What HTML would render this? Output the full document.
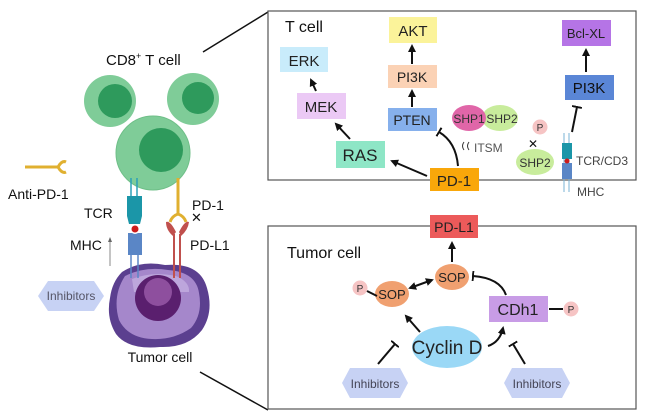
<!DOCTYPE html>
<html><head><meta charset="utf-8"><style>
html,body{margin:0;padding:0;background:#fff;}
svg{display:block;font-family:"Liberation Sans",sans-serif;}
</style></head><body>
<svg width="646" height="420" viewBox="0 0 646 420" xmlns="http://www.w3.org/2000/svg">
<defs>
<marker id="ar" markerWidth="8" markerHeight="8" refX="6" refY="4" orient="auto" markerUnits="userSpaceOnUse"><path d="M0,0 L8,4 L0,8 Z" fill="#111"/></marker>
<marker id="ars" markerWidth="8" markerHeight="8" refX="2" refY="4" orient="auto" markerUnits="userSpaceOnUse"><path d="M8,0 L0,4 L8,8 Z" fill="#111"/></marker>
<marker id="tb" markerWidth="2" markerHeight="10" refX="1" refY="5" orient="auto" markerUnits="userSpaceOnUse"><rect x="0" y="0" width="2" height="10" fill="#111"/></marker>
</defs>
<line x1="203" y1="52" x2="268" y2="12" stroke="#111" stroke-width="1.5"/>
<line x1="200" y1="372" x2="268" y2="410" stroke="#111" stroke-width="1.5"/>
<rect x="268" y="11" width="368" height="169" fill="#fff" stroke="#555" stroke-width="1.2"/>
<rect x="268" y="226" width="368" height="183" fill="#fff" stroke="#555" stroke-width="1.2"/>

<text x="106" y="65" font-size="15" fill="#111">CD8<tspan font-size="9" dy="-6">+</tspan><tspan dy="6"> T cell</tspan></text>
<circle cx="110" cy="101" r="26" fill="#7fcc98"/><circle cx="115" cy="101" r="17" fill="#2e9a5c"/>
<circle cx="193" cy="99" r="26" fill="#7fcc98"/><circle cx="198" cy="98" r="16" fill="#2e9a5c"/>
<circle cx="153" cy="153" r="37" fill="#7fcc98" stroke="#6fbf88"/><circle cx="161" cy="150" r="22" fill="#2e9a5c"/>
<line x1="25" y1="167" x2="58" y2="167" stroke="#e0b030" stroke-width="3"/>
<path d="M58,167 Q62,160 66,162 M58,167 Q62,174 66,172" stroke="#e0b030" stroke-width="3" fill="none"/>
<text x="8" y="199" font-size="14" fill="#111">Anti-PD-1</text>
<!-- tumor cell -->
<path d="M122,272 Q140,260 165,265 Q200,262 207,288 Q214,312 202,330 Q188,348 160,347 Q128,350 116,334 Q106,318 110,298 Q112,282 122,272Z" fill="#5b3f8f"/>
<path d="M125,276 Q145,266 168,270 Q196,272 199,293 Q203,314 191,328 Q174,340 152,339 Q128,338 119,320 Q112,296 125,276Z" fill="#a587cb"/>
<path d="M132,279 Q152,271 176,276 Q190,282 189,292 L134,292Z" fill="#c8b4e2" opacity="0.7"/>
<circle cx="158" cy="298" r="23" fill="#5a1f6e"/><circle cx="158" cy="292" r="14" fill="#8e4f9e"/>
<line x1="131" y1="178" x2="131" y2="198" stroke="#2aa0b8" stroke-width="1.5"/>
<line x1="137" y1="178" x2="137" y2="198" stroke="#2aa0b8" stroke-width="1.5"/>
<path d="M127,196 L142,196 L142,216 L140,224 L129,224 L127,216Z" fill="#1b96a8"/>
<rect x="128" y="233" width="14" height="22" fill="#5a86c6"/>
<line x1="131" y1="255" x2="131" y2="278" stroke="#5a86c6" stroke-width="1.5"/>
<line x1="138" y1="255" x2="138" y2="278" stroke="#5a86c6" stroke-width="1.5"/>
<circle cx="135" cy="229" r="5" fill="#fff"/><circle cx="135" cy="229" r="3.5" fill="#cc1b1b"/>
<text x="84" y="218" font-size="14" fill="#111">TCR</text>
<text x="70" y="250" font-size="14" fill="#111">MHC</text>
<line x1="110" y1="266" x2="110" y2="240" stroke="#888" stroke-width="1"/>
<path d="M108,242 L110,237 L112,242Z" fill="#666"/>
<line x1="178" y1="178" x2="178" y2="214" stroke="#e0b030" stroke-width="3"/>
<path d="M178,214 Q172,216 170,222 M178,214 Q184,216 186,222" stroke="#e0b030" stroke-width="3" fill="none"/>
<path d="M173,236 Q166,230 166,222 Q170,220 176,232Z M181,236 Q188,230 189,222 Q185,220 179,232Z" fill="#c0504d"/>
<line x1="174" y1="234" x2="174" y2="278" stroke="#c0504d" stroke-width="2"/>
<line x1="180" y1="234" x2="180" y2="278" stroke="#c0504d" stroke-width="2"/>
<text x="192" y="210" font-size="14" fill="#111">PD-1</text>
<text x="191" y="222" font-size="13" fill="#111">✕</text>
<text x="190" y="250" font-size="14" fill="#111">PD-L1</text>
<polygon points="38,296 48,281 94,281 104,296 94,311 48,311" fill="#c7d2f4"/>
<text x="71" y="300" font-size="12" fill="#556" text-anchor="middle">Inhibitors</text>
<text x="160" y="362" font-size="14" fill="#111" text-anchor="middle">Tumor cell</text>

<text x="285" y="32" font-size="16" fill="#111">T cell</text>
<rect x="280" y="47" width="48" height="25" fill="#c9ecfb"/><text x="304" y="66" font-size="15" text-anchor="middle" fill="#222">ERK</text>
<rect x="297" y="93" width="49" height="26" fill="#ebc9f5"/><text x="321" y="112" font-size="15" text-anchor="middle" fill="#222">MEK</text>
<rect x="336" y="141" width="49" height="27" fill="#8ee6c6"/><text x="360" y="161" font-size="17" text-anchor="middle" fill="#222">RAS</text>
<rect x="389" y="17" width="48" height="26" fill="#fbf39a"/><text x="413" y="36" font-size="15" text-anchor="middle" fill="#222">AKT</text>
<rect x="388" y="65" width="49" height="23" fill="#fbd2b5"/><text x="412" y="82" font-size="14" text-anchor="middle" fill="#222">PI3K</text>
<rect x="388" y="108" width="49" height="23" fill="#86b0ec"/><text x="412" y="125" font-size="14" text-anchor="middle" fill="#222">PTEN</text>
<rect x="430" y="168" width="49" height="23" fill="#f9a70a"/><text x="454" y="186" font-size="15" text-anchor="middle" fill="#222">PD-1</text>
<ellipse cx="500" cy="118" rx="18" ry="13" fill="#c8ec9c"/>
<ellipse cx="469" cy="118" rx="17" ry="13" fill="#e066a8"/>
<text x="469" y="123" font-size="12" text-anchor="middle" fill="#333">SHP1</text>
<text x="502" y="123" font-size="12" text-anchor="middle" fill="#333">SHP2</text>
<text x="474" y="152" font-size="12" fill="#555">ITSM</text>
<path d="M464,142 q-3,4 0,8 M469,142 q-3,4 0,8" stroke="#333" fill="none" stroke-width="1"/>
<ellipse cx="535" cy="162" rx="19" ry="13" fill="#c8ec9c"/><text x="535" y="167" font-size="12" text-anchor="middle" fill="#333">SHP2</text>
<circle cx="540" cy="127" r="7.5" fill="#f6c4c4"/><text x="540" y="131" font-size="10" text-anchor="middle" fill="#333">P</text>
<text x="533" y="148" font-size="12" text-anchor="middle" fill="#111">✕</text>
<rect x="565" y="75" width="49" height="25" fill="#5a86d6"/><text x="589" y="93" font-size="15" text-anchor="middle" fill="#111">PI3K</text>
<rect x="562" y="20" width="49" height="26" fill="#b574e6"/><text x="586" y="38" font-size="13" text-anchor="middle" fill="#222">Bcl-XL</text>
<line x1="564" y1="133" x2="564" y2="192" stroke="#7ab3d6" stroke-width="1"/>
<line x1="569" y1="133" x2="569" y2="192" stroke="#7ab3d6" stroke-width="1"/>
<rect x="562" y="143" width="10" height="16" fill="#1b96a8"/>
<rect x="562" y="163" width="10" height="16" fill="#5a86c6"/>
<circle cx="567" cy="161" r="2.5" fill="#cc1b1b"/>
<text x="576" y="165" font-size="12" fill="#444">TCR/CD3</text>
<text x="577" y="196" font-size="12" fill="#444">MHC</text>
<g stroke="#111" stroke-width="2" fill="none">
<line x1="350" y1="139" x2="336" y2="124" marker-end="url(#ar)"/>
<line x1="316" y1="91" x2="311" y2="80" marker-end="url(#ar)"/>
<line x1="412" y1="107" x2="412" y2="91" marker-end="url(#ar)"/>
<line x1="412" y1="64" x2="412" y2="46" marker-end="url(#ar)"/>
<line x1="427" y1="176" x2="392" y2="161" marker-end="url(#ar)"/>
<path d="M458,166 Q456,142 439,132" marker-end="url(#tb)"/>
<line x1="572" y1="132" x2="577" y2="107" marker-end="url(#tb)"/>
<line x1="586" y1="72" x2="586" y2="50" marker-end="url(#ar)"/>
</g>

<rect x="430" y="215" width="48" height="23" fill="#ec5a5a"/><text x="454" y="232" font-size="14" text-anchor="middle" fill="#222">PD-L1</text>
<text x="287" y="258" font-size="16" fill="#111">Tumor cell</text>
<ellipse cx="452" cy="277" rx="17" ry="13" fill="#f0a070"/><text x="452" y="282" font-size="13" text-anchor="middle" fill="#222">SOP</text>
<ellipse cx="392" cy="294" rx="17" ry="13" fill="#f0a070"/><text x="392" y="299" font-size="13" text-anchor="middle" fill="#222">SOP</text>
<circle cx="360" cy="288" r="7.5" fill="#f6c4c4"/><text x="360" y="292" font-size="10" text-anchor="middle" fill="#333">P</text>
<rect x="489" y="296" width="59" height="26" fill="#c89ce6"/><text x="518" y="315" font-size="16" text-anchor="middle" fill="#222">CDh1</text>
<circle cx="571" cy="309" r="7.5" fill="#f6c4c4"/><text x="571" y="313" font-size="10" text-anchor="middle" fill="#333">P</text>
<ellipse cx="447" cy="347" rx="35" ry="21" fill="#9ad8f6"/><text x="447" y="354" font-size="19" text-anchor="middle" fill="#222">Cyclin D</text>
<polygon points="342,383 350,368 400,368 408,383 400,398 350,398" fill="#c7d2f4"/><text x="375" y="388" font-size="12" text-anchor="middle" fill="#445">Inhibitors</text>
<polygon points="504,383 512,368 562,368 570,383 562,398 512,398" fill="#c7d2f4"/><text x="537" y="388" font-size="12" text-anchor="middle" fill="#445">Inhibitors</text>
<g stroke="#111" stroke-width="2" fill="none">
<line x1="452" y1="262" x2="452" y2="243" marker-end="url(#ar)"/>
<line x1="410" y1="288" x2="432" y2="280" marker-start="url(#ars)" marker-end="url(#ar)"/>
<path d="M506,295 Q500,278 473,276" marker-end="url(#tb)"/>
<line x1="420" y1="332" x2="406" y2="316" marker-end="url(#ar)"/>
<path d="M488,346 Q500,342 503,328" marker-end="url(#ar)"/>
<line x1="378" y1="364" x2="395" y2="344" marker-end="url(#tb)"/>
<line x1="525" y1="364" x2="513" y2="344" marker-end="url(#tb)"/>
<line x1="367" y1="291" x2="377" y2="296"/>
<line x1="549" y1="309" x2="563" y2="309"/>
</g>
</svg>
</body></html>
